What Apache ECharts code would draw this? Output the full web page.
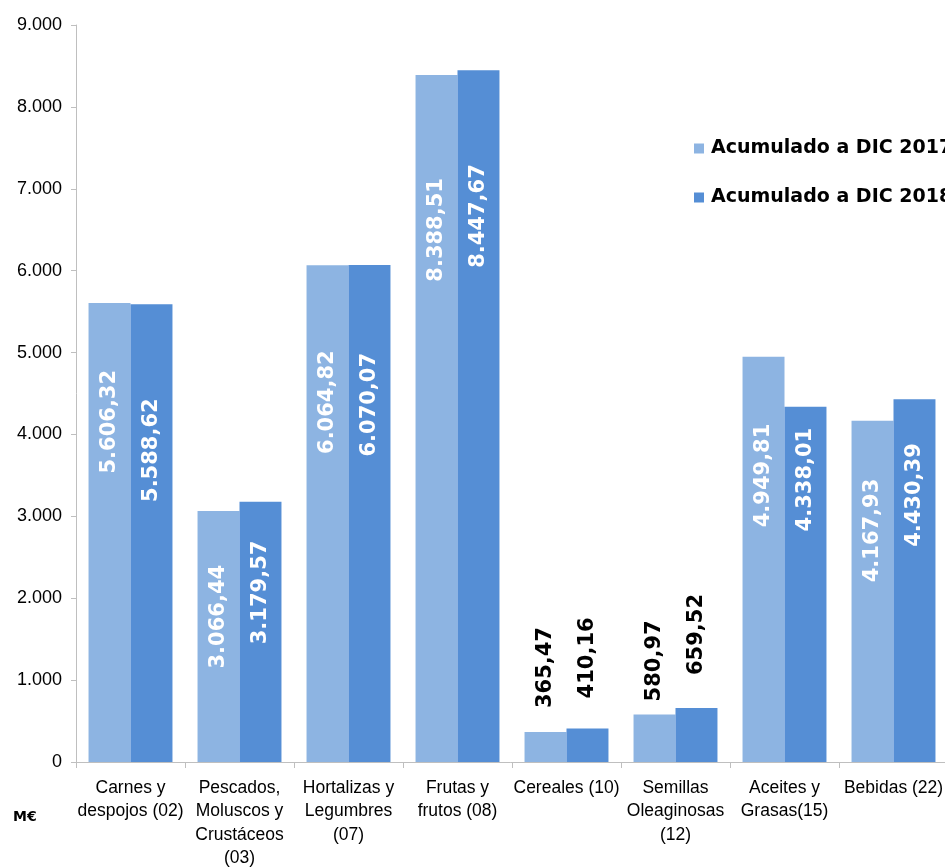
<!DOCTYPE html>
<html>
<head>
<meta charset="utf-8">
<script src="https://cdn.jsdelivr.net/npm/echarts@6/dist/echarts.min.js"></script>
<style>
html,body{margin:0;padding:0;background:#fff;}
#chart{width:945px;height:868px;}
</style>
</head>
<body>
<div id="chart"></div>
<script>
var categories = [
  "Carnes y\ndespojos (02)",
  "Pescados,\nMoluscos y\nCrustáceos\n(03)",
  "Hortalizas y\nLegumbres\n(07)",
  "Frutas y\nfrutos (08)",
  "Cereales (10)",
  "Semillas\nOleaginosas\n(12)",
  "Aceites y\nGrasas(15)",
  "Bebidas (22)"
];
var seriesNames = ["Acumulado a DIC 2017", "Acumulado a DIC 2018"];
var values2017 = [5606.32, 3066.44, 6064.82, 8388.51, 365.47, 580.97, 4949.81, 4167.93];
var values2018 = [5588.62, 3179.57, 6070.07, 8447.67, 410.16, 659.52, 4338.01, 4430.39];
var yTicks = [0, 1000, 2000, 3000, 4000, 5000, 6000, 7000, 8000, 9000];

// label style (distance from bar top), not data
var labelInset2017 = [67, 54, 85, 103, 24, 13, 67, 58];
var labelInset2018 = [94, 39, 88, 94, 30, 33, 21, 44];

function fmtThousands(v) {
  return String(Math.round(v)).replace(/\B(?=(\d{3})+(?!\d))/g, ".");
}
function fmtValue(v) {
  var parts = v.toFixed(2).split(".");
  return parts[0].replace(/\B(?=(\d{3})+(?!\d))/g, ".") + "," + parts[1];
}

function buildData(vals, insets) {
  return vals.map(function (v, i) {
    var inside = v >= 1000;
    return {
      value: v,
      label: inside ? {
        position: "insideTop",
        distance: insets[i],
        rotate: 90,
        align: "right",
        verticalAlign: "middle",
        color: "#ffffff"
      } : {
        position: "top",
        distance: insets[i],
        rotate: 90,
        align: "left",
        verticalAlign: "middle",
        color: "#000000"
      }
    };
  });
}

var labelBase = {
  show: true,
  fontFamily: "DejaVu Sans",
  fontWeight: "bold",
  fontSize: 21,
  formatter: function (p) { return fmtValue(p.value); }
};

var chart = echarts.init(document.getElementById("chart"));
chart.setOption({
  backgroundColor: "#ffffff",
  animation: false,
  grid: { left: 76, top: 25, width: 872, height: 737, containLabel: false, outerBoundsMode: "none" },
  legend: {
    orient: "vertical",
    left: 689,
    top: 134,
    itemWidth: 10,
    itemHeight: 10,
    itemGap: 30,
    icon: "rect",
    textStyle: { fontFamily: "DejaVu Sans", fontWeight: "bold", fontSize: 19, color: "#000", padding: [0, 0, 0, 2] },
    data: seriesNames
  },
  xAxis: {
    type: "category",
    data: categories,
    axisLine: { lineStyle: { color: "#bfbfbf", width: 1 } },
    axisTick: { show: true, length: 6, lineStyle: { color: "#bfbfbf" } },
    axisLabel: {
      interval: 0,
      margin: 14,
      fontFamily: "Liberation Sans",
      fontSize: 17.5,
      lineHeight: 23.5,
      color: "#000"
    }
  },
  yAxis: {
    type: "value",
    min: 0,
    max: 9000,
    interval: 1000,
    splitLine: { show: false },
    axisLine: { show: true, lineStyle: { color: "#bfbfbf", width: 1 } },
    axisTick: { show: true, length: 5, lineStyle: { color: "#bfbfbf" } },
    axisLabel: {
      margin: 14,
      fontFamily: "Liberation Sans",
      fontSize: 18,
      color: "#000",
      formatter: function (v) { return yTicks.indexOf(v) >= 0 ? fmtThousands(v) : ""; }
    }
  },
  graphic: [{
    type: "text",
    left: 13,
    top: 810,
    style: { text: "M€", fontFamily: "DejaVu Sans", fontWeight: "bold", fontSize: 14, fill: "#000" }
  }],
  series: [
    {
      name: seriesNames[0],
      type: "bar",
      barGap: "0%",
      barCategoryGap: "23%",
      itemStyle: { color: "#8DB4E2" },
      label: labelBase,
      data: buildData(values2017, labelInset2017)
    },
    {
      name: seriesNames[1],
      type: "bar",
      barGap: "0%",
      barCategoryGap: "23%",
      itemStyle: { color: "#558ED5" },
      label: labelBase,
      data: buildData(values2018, labelInset2018)
    }
  ]
});
</script>
</body>
</html>
